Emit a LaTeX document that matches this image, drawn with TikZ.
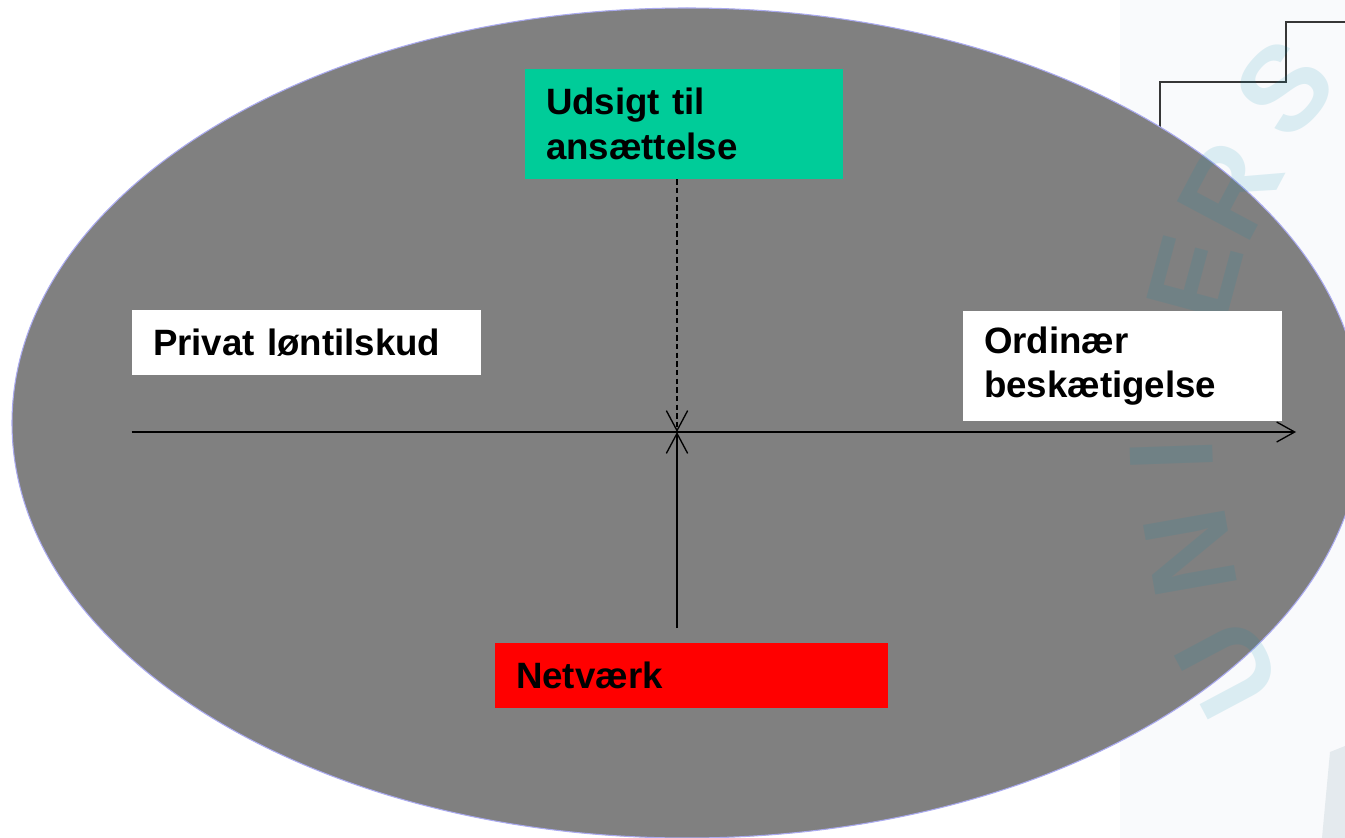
\documentclass[tikz,border=0pt]{standalone}
\usepackage{fontspec}
\setmainfont{Liberation Sans}
\usetikzlibrary{arrows.meta}
\definecolor{ellgrey}{RGB}{128,128,128}
\definecolor{ellborder}{RGB}{170,170,240}
\definecolor{boxgreen}{RGB}{0,204,153}
\definecolor{boxred}{RGB}{255,0,0}
\definecolor{stripbg}{RGB}{249,250,252}
\definecolor{wmark}{RGB}{0,140,175}
\definecolor{wmgrey}{RGB}{228,234,238}
\definecolor{stepline}{RGB}{55,55,55}
\begin{document}
\begin{tikzpicture}[x=0.75pt,y=-0.75pt,
  labelbox/.style={rectangle, inner xsep=15.75pt, inner ysep=0pt, align=left,
    font=\fontsize{27.5}{33.5}\selectfont\bfseries, text=black},
  axisline/.style={line width=1pt, black},
  wm/.style={text=wmark, text opacity=0.12, font=\fontsize{90}{90}\selectfont\bfseries, inner sep=0pt}]
\clip (0,0) rectangle (1345,838);
\fill[white] (0,0) rectangle (1345,838);
\fill[stripbg] (1120,0) rectangle (1345,838);
\fill[wmgrey] (1330,752) -- (1345,746) -- (1345,838) -- (1322,838) -- cycle;
\draw[stepline, line width=1.1pt] (1160,135) -- (1160,82) -- (1286,82) -- (1286,22) -- (1350,22);
\filldraw[fill=ellgrey, draw=ellborder, line width=0.8pt] (687,423) ellipse [x radius=506.25pt, y radius=311.25pt];
% watermark
\node[wm, rotate=118] (wmU) at (1228,668) {U};
\node[wm, rotate=100] (wmN) at (1190,553) {N};
\node[wm, rotate=92] (wmI) at (1172,455) {I};
\node[wm, rotate=85] (wmV) at (1175,368) {V};
\node[wm, rotate=75] (wmE) at (1195,278) {E};
\node[wm, rotate=62] (wmR) at (1230,190) {R};
\node[wm, rotate=48] (wmS) at (1285,88) {S};
% boxes
\node[labelbox, fill=white, text width=230.25pt, minimum height=48.75pt] (privat) at (306.5,342.5) {Privat løntilskud};
\node[labelbox, fill=white, text width=207.75pt, minimum height=82.5pt] (ordinaer) at (1122.5,366) {Ordinær\\beskætigelse};
\node[labelbox, fill=boxgreen, text width=207pt, minimum height=82.5pt] (udsigt) at (684,124) {Udsigt til\\ansættelse};
\node[labelbox, fill=boxred, text width=263.25pt, minimum height=48.75pt] (netvaerk) at (691.5,675.5) {Netværk};
% axes
\coordinate (ctr) at (677,432);
\coordinate (hend) at (1296,432);
\coordinate (vbot) at (677,628);
\draw[axisline, -{Straight Barb[length=13.5pt,width=15pt]}] (privat.west |- ctr) -- (hend);
\draw[axisline, -{Straight Barb[length=15pt,width=16pt]}] (vbot) -- (ctr);
\draw[axisline, dash pattern=on 4pt off 2.5pt, -{Straight Barb[length=15pt,width=16pt]}] (udsigt.south -| ctr) -- (ctr);
\end{tikzpicture}
\end{document}
